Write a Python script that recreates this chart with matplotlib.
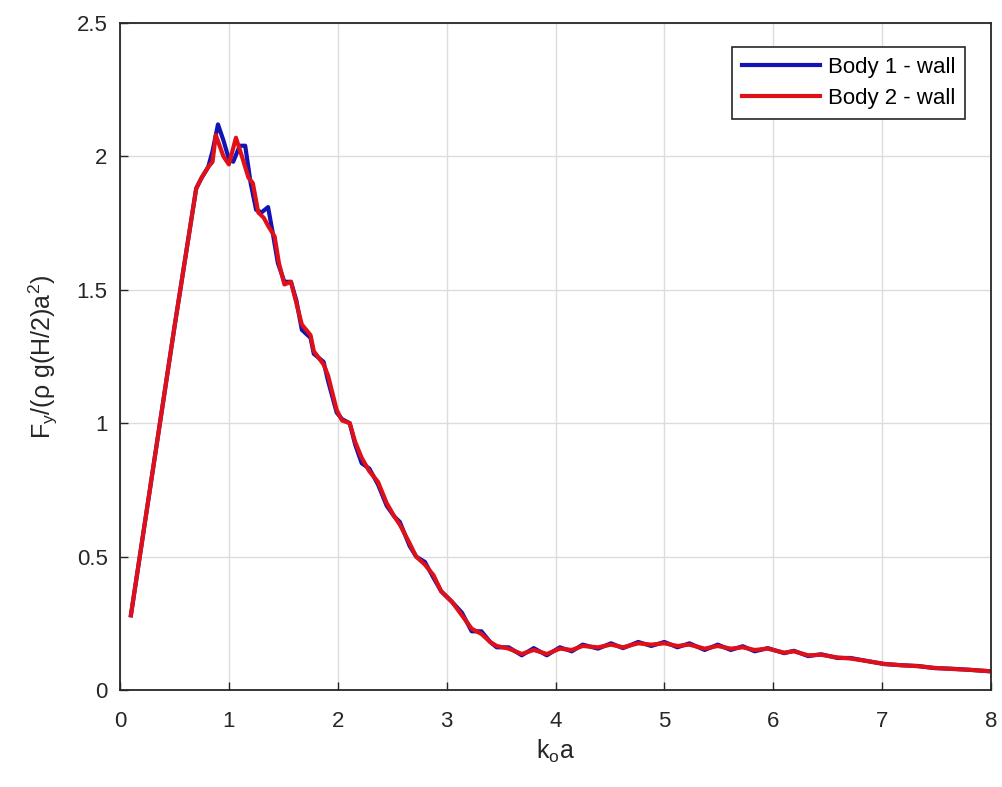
import numpy as np
import matplotlib
matplotlib.use('Agg')
import matplotlib.pyplot as plt

plt.rcParams['font.family'] = ['Liberation Sans', 'DejaVu Sans']
plt.rcParams['mathtext.fontset'] = 'custom'
plt.rcParams['mathtext.rm'] = 'Liberation Sans'
plt.rcParams['mathtext.it'] = 'Liberation Sans:italic'
plt.rcParams['mathtext.default'] = 'regular'

# rise part (same for both bodies)
ka_rise = [0.1, 0.3, 0.5, 0.7, 0.75, 0.81]
fy_rise = [0.28, 0.82, 1.36, 1.88, 1.92, 1.96]

# peak region, body 1
ka_peak1 = [0.85, 0.9, 0.95, 1.0, 1.04, 1.1, 1.15, 1.2, 1.25, 1.3, 1.36, 1.4, 1.45]
fy_peak1 = [2.02, 2.12, 2.06, 1.99, 1.98, 2.04, 2.04, 1.90, 1.80, 1.79, 1.81, 1.72, 1.60]

# peak region, body 2
ka_peak2 = [0.85, 0.88, 0.95, 1.0, 1.065, 1.12, 1.18, 1.22, 1.27, 1.32, 1.36, 1.42, 1.46]
fy_peak2 = [1.98, 2.08, 2.00, 1.97, 2.07, 2.00, 1.92, 1.90, 1.79, 1.77, 1.74, 1.70, 1.60]

# decay and tail
ka_tail = [1.51, 1.57, 1.62, 1.67, 1.75, 1.78, 1.87, 1.91, 1.99, 2.04, 2.11, 2.16,
           2.22, 2.29, 2.37, 2.45, 2.52, 2.57, 2.66, 2.72, 2.80, 2.88, 2.95, 3.05,
           3.14, 3.23, 3.32, 3.40, 3.46, 3.57, 3.69, 3.80, 3.92, 4.04, 4.15, 4.25,
           4.39, 4.51, 4.62, 4.76, 4.88, 5.00, 5.12, 5.23, 5.37, 5.49, 5.61, 5.72,
           5.83, 5.95, 6.10, 6.19, 6.32, 6.44, 6.59, 6.71, 6.87, 7.02, 7.17, 7.33,
           7.48, 7.63, 7.79, 8.0]
fy_tail1 = [1.53, 1.53, 1.46, 1.35, 1.32, 1.26, 1.23, 1.16, 1.04, 1.015, 1.00, 0.92,
            0.85, 0.83, 0.77, 0.69, 0.65, 0.63, 0.54, 0.50, 0.48, 0.42, 0.37, 0.33,
            0.29, 0.22, 0.22, 0.18, 0.16, 0.16, 0.13, 0.157, 0.13, 0.16, 0.145, 0.17,
            0.155, 0.175, 0.157, 0.18, 0.165, 0.18, 0.16, 0.175, 0.15, 0.17, 0.15, 0.164,
            0.145, 0.157, 0.138, 0.147, 0.127, 0.134, 0.12, 0.12, 0.108, 0.097, 0.093, 0.09,
            0.082, 0.08, 0.076, 0.07]
fy_tail2 = [1.52, 1.53, 1.45, 1.37, 1.33, 1.27, 1.22, 1.18, 1.05, 1.01, 1.00, 0.93,
            0.87, 0.82, 0.78, 0.70, 0.65, 0.62, 0.55, 0.50, 0.47, 0.43, 0.37, 0.33,
            0.28, 0.23, 0.21, 0.18, 0.165, 0.155, 0.135, 0.15, 0.135, 0.155, 0.15, 0.165,
            0.16, 0.17, 0.16, 0.175, 0.17, 0.175, 0.165, 0.17, 0.155, 0.165, 0.155, 0.16,
            0.15, 0.155, 0.14, 0.145, 0.13, 0.132, 0.122, 0.118, 0.108, 0.098, 0.093, 0.089,
            0.083, 0.079, 0.076, 0.07]

ka_1 = ka_rise + ka_peak1 + ka_tail
fy_1 = fy_rise + fy_peak1 + fy_tail1
ka_2 = ka_rise + ka_peak2 + ka_tail
fy_2 = fy_rise + fy_peak2 + fy_tail2

fig = plt.figure(figsize=(10.02, 7.87), dpi=100)
ax = fig.add_axes([120/1002, 1-690/787, 871/1002, 667/787])

ax.plot(ka_1, fy_1, color='#1414b4', lw=3.0, label='Body 1 - wall')
ax.plot(ka_2, fy_2, color='#e01018', lw=3.0, label='Body 2 - wall')

ax.set_xlim(0, 8)
ax.set_ylim(0, 2.5)
ax.set_xticks(np.arange(0, 9, 1))
ax.set_yticks([0, 0.5, 1, 1.5, 2, 2.5])
ax.set_yticklabels(['0', '0.5', '1', '1.5', '2', '2.5'])
ax.grid(True, color='#dcdcdc', lw=1.0)
ax.set_axisbelow(True)
ax.tick_params(direction='in', length=6, width=1, labelsize=16, colors='#262626')
ax.tick_params(axis='x', pad=15)
ax.tick_params(axis='y', pad=9)
for s in ax.spines.values():
    s.set_color('#262626')
    s.set_linewidth(1.3)

ax.set_xlabel(r'k$_o$a', fontsize=18, color='#262626', labelpad=4)
ax.set_ylabel(r'F$_y$/($\rho$ g(H/2)a$^2$)', fontsize=18, color='#262626', labelpad=12)

leg = ax.legend(loc='upper right', bbox_to_anchor=(965/1002, 1-47/787),
                bbox_transform=fig.transFigure, borderaxespad=0, fontsize=16,
                handlelength=3.5, fancybox=False, framealpha=1, edgecolor='#262626',
                borderpad=0.45, labelspacing=0.45, handletextpad=0.35)
leg.get_frame().set_linewidth(1.2)

fig.savefig('out.png', dpi=100)
